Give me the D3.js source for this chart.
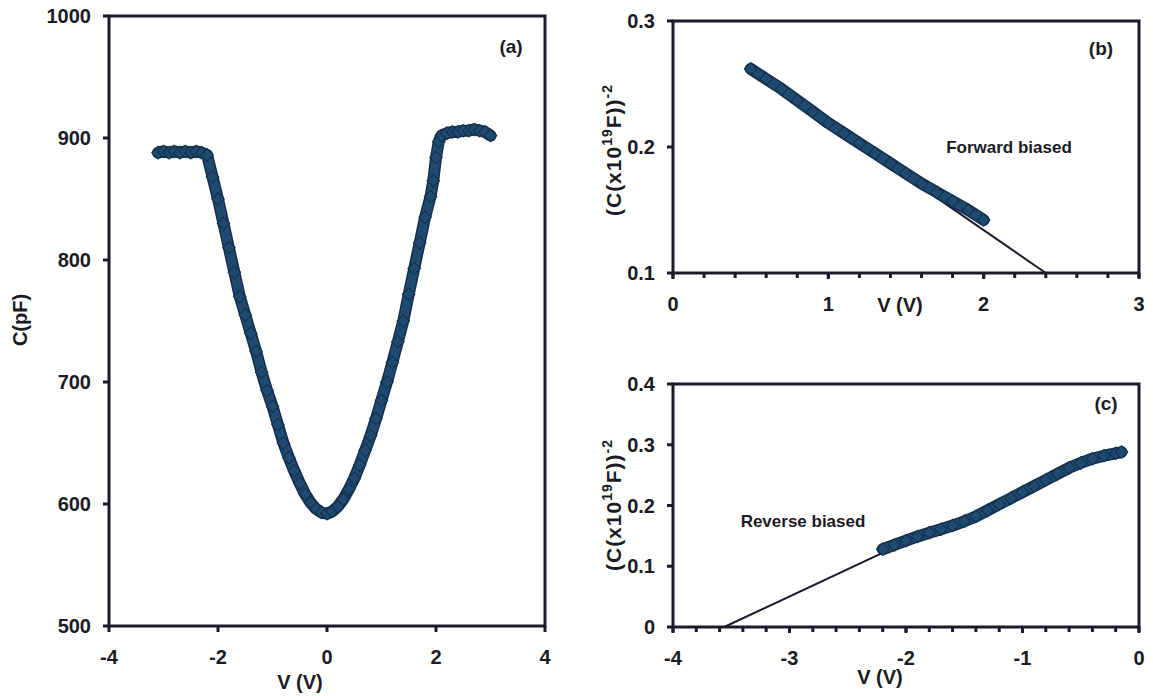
<!DOCTYPE html>
<html lang="en">
<head>
    <meta charset="UTF-8">
    <title>C-V characteristics</title>
    <script src="https://d3js.org/d3.v7.min.js"></script>
    <style>
        body { margin: 0; background: #ffffff; }
        svg text {
            font-family: 'Liberation Sans', Arial, sans-serif;
            font-weight: bold;
            fill: #1b1b24;
        }
    </style>
</head>
<body>
    <svg id="chart" width="1153" height="696"></svg>
    <script>
        // (a) C-V curve
        const aV = [-3.1, -3.0, -2.9, -2.8, -2.7, -2.6, -2.5, -2.4, -2.3, -2.2, -2.1, -2.0, -1.9, -1.8, -1.7, -1.6,
                    -1.5, -1.4, -1.3, -1.2, -1.1, -1.0, -0.9, -0.8, -0.7, -0.6, -0.5, -0.4, -0.3, -0.2, -0.1, 0.0,
                    0.1, 0.2, 0.3, 0.4, 0.5, 0.6, 0.7, 0.8, 0.9, 1.0, 1.1, 1.2, 1.3, 1.4, 1.5, 1.6, 1.7, 1.8,
                    1.9, 1.95, 2.0, 2.05, 2.1, 2.2, 2.3, 2.4, 2.5, 2.6, 2.7, 2.8, 2.9, 3.0];
        const aC = [888, 889, 888, 889, 888, 889, 888, 889, 888, 886, 868, 850, 830, 810, 790, 770,
                    755, 740, 725, 708, 693, 680, 665, 650, 638, 627, 617, 608, 601, 596, 593, 592,
                    594, 598, 604, 612, 621, 632, 644, 656, 670, 685, 700, 716, 733, 750, 772, 793, 814, 835,
                    852, 865, 884, 897, 902, 904, 905, 905, 906, 906, 907, 906, 905, 902];
        const aXTicks = [-4, -2, 0, 2, 4];
        const aYTicks = [500, 600, 700, 800, 900, 1000];

        // (b) forward biased
        const bV = [0.5, 0.55, 0.6, 0.7, 0.8, 0.9, 1.0, 1.1, 1.2, 1.3, 1.4, 1.5, 1.6, 1.7, 1.8, 1.9, 2.0];
        const bY = [0.262, 0.258, 0.254, 0.246, 0.237, 0.228, 0.219, 0.211, 0.203, 0.195, 0.187, 0.179,
                    0.171, 0.164, 0.157, 0.150, 0.142];
        const bFitV = [1.5, 2.4];
        const bFitY = [0.1765, 0.1];
        const bXTicks = [0, 1, 2, 3];
        const bYTicks = [0.1, 0.2, 0.3];

        // (c) reverse biased
        const cV = [-2.2, -2.1, -2.0, -1.9, -1.8, -1.7, -1.6, -1.5, -1.4, -1.3, -1.2, -1.1, -1.0, -0.9,
                    -0.8, -0.7, -0.6, -0.5, -0.4, -0.3, -0.2, -0.15];
        const cY = [0.128, 0.135, 0.142, 0.149, 0.155, 0.161, 0.167, 0.174, 0.182, 0.192, 0.202, 0.212,
                    0.222, 0.232, 0.242, 0.252, 0.262, 0.270, 0.277, 0.282, 0.286, 0.288];
        const cFitV = [-3.56, -2.0];
        const cFitY = [0, 0.140];
        const cXTicks = [-4, -3, -2, -1, 0];
        const cYTicks = [0, 0.1, 0.2, 0.3, 0.4];

        const svg = d3.select('#chart');
        const axisColor = '#1b1b2a';
        const bandColor = '#1e4a6f';
        const bandEdge = '#142f4b';

        function drawPanel(p) {
            const x = d3.scaleLinear().domain(p.xDomain).range([p.left, p.right]);
            const y = d3.scaleLinear().domain(p.yDomain).range([p.bottom, p.top]);
            const g = svg.append('g');

            // minor ticks on x
            if (p.minor) {
                const minors = d3.range(p.xDomain[0], p.xDomain[1] + 1e-9, p.minor);
                g.selectAll('.minor').data(minors).enter().append('line')
                    .attr('x1', d => x(d)).attr('x2', d => x(d))
                    .attr('y1', p.bottom).attr('y2', p.bottom + 5)
                    .attr('stroke', axisColor).attr('stroke-width', 3);
            }

            // major ticks
            g.selectAll('.xt').data(p.xTicks).enter().append('line')
                .attr('x1', d => x(d)).attr('x2', d => x(d))
                .attr('y1', p.bottom).attr('y2', p.bottom + 6)
                .attr('stroke', axisColor).attr('stroke-width', 3);
            g.selectAll('.yt').data(p.yTicks).enter().append('line')
                .attr('x1', p.left - 6).attr('x2', p.left)
                .attr('y1', d => y(d)).attr('y2', d => y(d))
                .attr('stroke', axisColor).attr('stroke-width', 3);

            // tick labels
            g.selectAll('.xl').data(p.xTicks).enter().append('text')
                .attr('x', d => x(d)).attr('y', p.bottom + 38)
                .attr('text-anchor', 'middle').attr('font-size', 20)
                .text(d => String(d));
            g.selectAll('.yl').data(p.yTicks).enter().append('text')
                .attr('x', p.left - 18).attr('y', d => y(d) + 7)
                .attr('text-anchor', 'end').attr('font-size', 20)
                .text(d => String(d));

            // fit line
            if (p.fitV) {
                g.append('path')
                    .datum(d3.zip(p.fitV, p.fitY))
                    .attr('d', d3.line().x(d => x(d[0])).y(d => y(d[1])))
                    .attr('fill', 'none').attr('stroke', axisColor).attr('stroke-width', 2);
            }

            // data band: thick line + diamond markers
            const pts = d3.zip(p.xs, p.ys);
            g.append('path')
                .datum(pts)
                .attr('d', d3.line().x(d => x(d[0])).y(d => y(d[1])))
                .attr('fill', 'none').attr('stroke', bandEdge)
                .attr('stroke-width', 12).attr('stroke-linejoin', 'round').attr('stroke-linecap', 'round');
            g.append('path')
                .datum(pts)
                .attr('d', d3.line().x(d => x(d[0])).y(d => y(d[1])))
                .attr('fill', 'none').attr('stroke', bandColor)
                .attr('stroke-width', 9).attr('stroke-linejoin', 'round').attr('stroke-linecap', 'round');
            const diamond = d3.symbol().type(d3.symbolSquare).size(80);
            g.selectAll('.pt').data(pts).enter().append('path')
                .attr('d', diamond)
                .attr('transform', d => `translate(${x(d[0])},${y(d[1])}) rotate(45)`)
                .attr('fill', bandColor).attr('stroke', bandEdge).attr('stroke-width', 1);

            // frame
            g.append('rect')
                .attr('x', p.left).attr('y', p.top)
                .attr('width', p.right - p.left).attr('height', p.bottom - p.top)
                .attr('fill', 'none').attr('stroke', axisColor).attr('stroke-width', 3);

            // panel tag
            g.append('text')
                .attr('x', p.tag[1]).attr('y', p.tag[2])
                .attr('text-anchor', 'middle').attr('font-size', 19)
                .text(p.tag[0]);
            return { x, y, g };
        }

        // (a)
        const a = drawPanel({
            left: 109, right: 545, top: 16, bottom: 626,
            xDomain: [-4, 4], yDomain: [500, 1000],
            xTicks: aXTicks, yTicks: aYTicks,
            xs: aV, ys: aC, tag: ['(a)', 511, 53]
        });
        a.g.append('text').attr('x', 300).attr('y', 689).attr('text-anchor', 'middle')
            .attr('font-size', 20).text('V (V)');
        a.g.append('text').attr('transform', 'translate(27,320) rotate(-90)')
            .attr('text-anchor', 'middle').attr('font-size', 20).text('C(pF)');

        // (b)
        const b = drawPanel({
            left: 673, right: 1139, top: 21, bottom: 273,
            xDomain: [0, 3], yDomain: [0.1, 0.3],
            xTicks: bXTicks, yTicks: bYTicks, minor: 0.2,
            xs: bV, ys: bY, fitV: bFitV, fitY: bFitY, tag: ['(b)', 1101, 55]
        });
        b.g.append('text').attr('x', 900).attr('y', 312).attr('text-anchor', 'middle')
            .attr('font-size', 20).text('V (V)');
        b.g.append('text').attr('x', 1009).attr('y', 153).attr('text-anchor', 'middle')
            .attr('font-size', 17).text('Forward biased');

        // (c)
        const c = drawPanel({
            left: 673, right: 1139, top: 384, bottom: 627,
            xDomain: [-4, 0], yDomain: [0, 0.4],
            xTicks: cXTicks, yTicks: cYTicks, minor: 0.2,
            xs: cV, ys: cY, fitV: cFitV, fitY: cFitY, tag: ['(c)', 1106, 410]
        });
        c.g.append('text').attr('x', 880).attr('y', 684).attr('text-anchor', 'middle')
            .attr('font-size', 20).text('V (V)');
        c.g.append('text').attr('x', 803).attr('y', 527).attr('text-anchor', 'middle')
            .attr('font-size', 17).text('Reverse biased');

        // rotated y titles with superscripts
        function yTitle(cx, cy) {
            const t = svg.append('text')
                .attr('transform', `translate(${cx},${cy}) rotate(-90)`)
                .attr('text-anchor', 'middle').attr('font-size', 21)
                .attr('letter-spacing', 1);
            t.append('tspan').text('(C(x10');
            t.append('tspan').attr('dy', -9).attr('font-size', 14).text('19');
            t.append('tspan').attr('dy', 9).text('F))');
            t.append('tspan').attr('dy', -9).attr('font-size', 14).text('-2');
        }
        yTitle(621, 150);
        yTitle(621, 505);
    </script>
</body>
</html>
